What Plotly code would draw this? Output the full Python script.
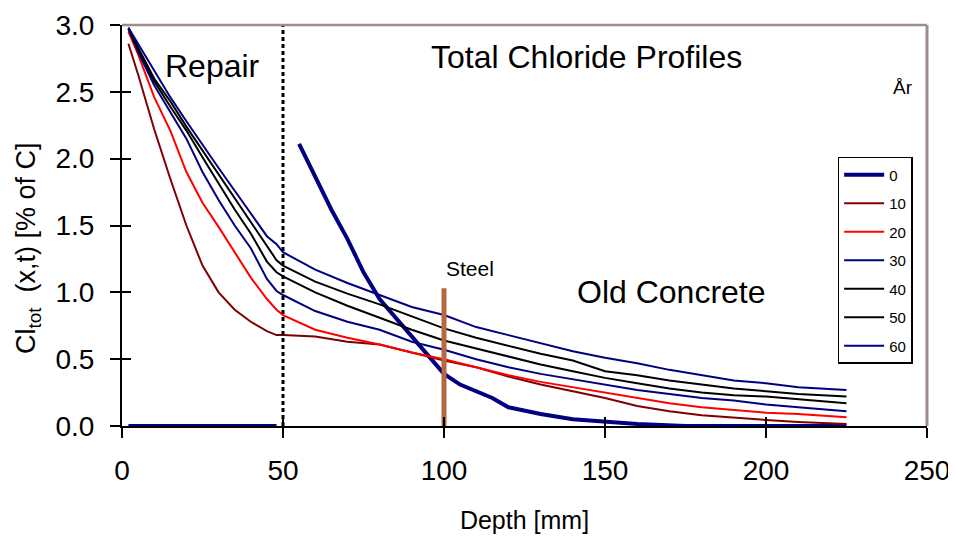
import plotly.graph_objects as go

# depth points [mm] shared by the 10..60 year profiles
depth = [2, 5, 10, 15, 20, 25, 30, 35, 40, 45, 48, 50, 60, 70, 80, 90, 100,
         110, 120, 130, 140, 150, 160, 170, 180, 190, 200, 210, 225]

yr10 = [2.86, 2.63, 2.22, 1.85, 1.50, 1.20, 1.00, 0.87, 0.78, 0.71, 0.68, 0.68,
        0.67, 0.63, 0.61, 0.55, 0.49, 0.44, 0.37, 0.31, 0.26, 0.21, 0.15, 0.11,
        0.08, 0.06, 0.045, 0.03, 0.015]
yr20 = [2.95, 2.78, 2.46, 2.21, 1.90, 1.67, 1.49, 1.30, 1.11, 0.95, 0.87, 0.83,
        0.72, 0.66, 0.61, 0.55, 0.50, 0.44, 0.38, 0.33, 0.29, 0.25, 0.21, 0.17,
        0.14, 0.12, 0.10, 0.09, 0.065]
yr30 = [2.97, 2.80, 2.55, 2.35, 2.15, 1.90, 1.69, 1.50, 1.33, 1.10, 1.01, 0.98,
        0.86, 0.78, 0.72, 0.63, 0.57, 0.50, 0.44, 0.39, 0.35, 0.31, 0.27, 0.24,
        0.21, 0.19, 0.16, 0.14, 0.11]
yr40 = [2.97, 2.82, 2.58, 2.39, 2.21, 2.01, 1.81, 1.62, 1.44, 1.23, 1.15, 1.12,
        1.00, 0.90, 0.81, 0.72, 0.64, 0.58, 0.52, 0.46, 0.41, 0.36, 0.32, 0.28,
        0.25, 0.23, 0.22, 0.20, 0.17]
yr50 = [2.98, 2.83, 2.60, 2.43, 2.24, 2.06, 1.88, 1.70, 1.52, 1.34, 1.24, 1.20,
        1.08, 0.99, 0.91, 0.82, 0.73, 0.66, 0.60, 0.54, 0.49, 0.41, 0.38, 0.34,
        0.31, 0.28, 0.26, 0.24, 0.22]
yr60 = [2.98, 2.86, 2.65, 2.46, 2.28, 2.10, 1.93, 1.76, 1.59, 1.42, 1.36, 1.30,
        1.17, 1.07, 0.98, 0.89, 0.83, 0.74, 0.68, 0.62, 0.56, 0.51, 0.47, 0.42,
        0.38, 0.34, 0.32, 0.29, 0.27]

# year 0: zero in the repair, initial profile in the old concrete
depth0 = [2, 48, None, 55, 60, 65, 70, 75, 80, 85, 90, 95, 100, 105, 110, 115,
          120, 130, 140, 150, 160, 175, 200, 225]
yr0 = [0, 0, None, 2.11, 1.86, 1.62, 1.40, 1.15, 0.95, 0.81, 0.66, 0.52, 0.39,
       0.31, 0.26, 0.21, 0.14, 0.09, 0.05, 0.03, 0.015, 0.0, 0.0, 0.0]

years = ['0', '10', '20', '30', '40', '50', '60']
colors = ['#000080', '#800000', '#FF0000', '#000080', '#000000', '#000000', '#000080']

repair_depth = 50
steel_depth = 100
steel_top = 1.03

FONT = 'Liberation Sans, Arial, sans-serif'

fig = go.Figure()

series = [(depth0, yr0)] + [(depth, v) for v in [yr10, yr20, yr30, yr40, yr50, yr60]]
for i, (x, y) in enumerate(series):
    fig.add_trace(go.Scatter(
        x=x, y=y, mode='lines', name=years[i], legendgroup=years[i],
        line=dict(color=colors[i], width=4 if i == 0 else 2),
        connectgaps=False,
    ))

fig.add_trace(go.Scatter(x=[repair_depth, repair_depth], y=[0, 3], mode='lines',
                         line=dict(color='black', width=3, dash='4px,3px'),
                         showlegend=False, hoverinfo='skip'))
fig.add_trace(go.Scatter(x=[steel_depth, steel_depth], y=[0, steel_top], mode='lines',
                         line=dict(color='#B5693E', width=5),
                         showlegend=False, hoverinfo='skip'))
# carrier for the inner half of the crossing ticks
fig.add_trace(go.Scatter(x=[None], y=[None], xaxis='x2', yaxis='y2',
                         showlegend=False, hoverinfo='skip'))

axis_common = dict(showgrid=False, zeroline=False, ticks='outside', ticklen=10,
                   tickwidth=2, tickcolor='black', showline=True, linecolor='black',
                   linewidth=2, automargin=False, ticklabeloverflow='allow',
                   tickfont=dict(size=28, color='black'))

# the page body adds 8px around the figure
fig.update_layout(
    width=948, height=526,
    margin=dict(l=114, r=29, t=17, b=108, autoexpand=False),
    plot_bgcolor='white', paper_bgcolor='white',
    font=dict(family=FONT, color='black'),
    xaxis=dict(range=[0, 250], dtick=50, tick0=0, ticklabelstandoff=8,
               title=dict(text='Depth [mm]', font=dict(size=25), standoff=28),
               **axis_common),
    yaxis=dict(range=[0, 3], dtick=0.5, tick0=0, tickformat='.1f', ticklabelstandoff=10,
               **axis_common),
    xaxis2=dict(range=[0, 250], dtick=50, tick0=0, overlaying='x', anchor='y2',
                ticks='inside', ticklen=9, tickwidth=2, tickcolor='black',
                showticklabels=False, showgrid=False, zeroline=False, showline=False),
    yaxis2=dict(range=[0, 3], dtick=0.5, tick0=0, overlaying='y', anchor='x2',
                ticks='inside', ticklen=9, tickwidth=2, tickcolor='black',
                showticklabels=False, showgrid=False, zeroline=False, showline=False),
    legend=dict(x=0.889, y=0.671, xanchor='left', yanchor='top',
                bordercolor='black', borderwidth=1.5, bgcolor='white',
                font=dict(size=15), itemwidth=40, tracegroupgap=6,
                traceorder='grouped'),
    shapes=[
        dict(type='line', xref='paper', yref='paper', x0=0, x1=1, y0=1, y1=1,
             line=dict(color='#9E8C8C', width=2.5)),
        dict(type='line', xref='paper', yref='paper', x0=1, x1=1, y0=0, y1=1,
             line=dict(color='#9E8C8C', width=3)),
    ],
    annotations=[
        dict(x=-0.1168, y=0.444, xref='paper', yref='paper', textangle=-90,
             text='Cl<sub>tot</sub>  (x,t) [% of C]', showarrow=False,
             xanchor='center', yanchor='middle', font=dict(size=27)),
        dict(x=28, y=2.69, xref='x', yref='y', text='Repair', showarrow=False,
             font=dict(size=32)),
        dict(x=144.4, y=2.76, xref='x', yref='y', text='Total Chloride Profiles',
             showarrow=False, font=dict(size=32)),
        dict(x=170.8, y=1.0, xref='x', yref='y', text='Old Concrete', showarrow=False,
             font=dict(size=32)),
        dict(x=108, y=1.18, xref='x', yref='y', text='Steel', showarrow=False,
             font=dict(size=21)),
        dict(x=0.970, y=0.843, xref='paper', yref='paper', text='År', showarrow=False,
             xanchor='center', yanchor='middle', font=dict(size=19)),
    ],
)

fig.write_html('out.html')
